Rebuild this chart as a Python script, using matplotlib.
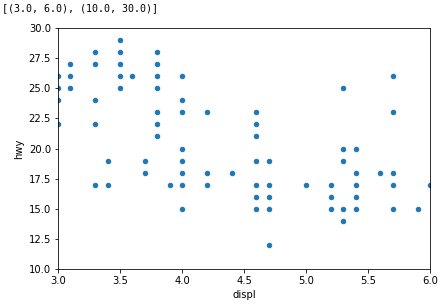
import matplotlib
matplotlib.use("Agg")
from matplotlib import pyplot as plt

# displ -> hwy values
displ_groups = [3.0, 3.1, 3.3, 3.4, 3.5, 3.6, 3.7, 3.8, 3.9, 4.0, 4.2, 4.4,
                4.6, 4.7, 5.0, 5.2, 5.3, 5.4, 5.6, 5.7, 5.9, 6.0]
hwy_groups = [
    [26, 25, 24, 22],
    [27, 26, 25],
    [28, 27, 24, 22, 17],
    [19, 17],
    [29, 28, 27, 26, 25],
    [26],
    [19, 18],
    [28, 27, 26, 25, 23, 22, 21],
    [17],
    [26, 24, 23, 20, 19, 18, 17, 15],
    [23, 18, 17],
    [18],
    [23, 22, 21, 19, 17, 16, 15],
    [19, 17, 16, 15, 12],
    [17],
    [17, 16, 15],
    [25, 20, 19, 15, 14],
    [20, 18, 17, 16, 15],
    [18],
    [26, 23, 18, 17, 15],
    [15],
    [17],
]

displ = []
hwy = []
for d, ys in zip(displ_groups, hwy_groups):
    for y in ys:
        displ.append(d)
        hwy.append(y)

fig = plt.figure(figsize=(443 / 72, 308 / 72), dpi=72)
ax = fig.add_axes([0.1309, 0.1266, 0.8398, 0.7825])
ax.scatter(displ, hwy, s=20, color='#1f77b4')
ax.set_xlim(3.0, 6.0)
ax.set_ylim(10.0, 30.0)
ax.set_xlabel('displ')
ax.set_ylabel('hwy')

# notebook output line above the plot
fig.text(0.005, 0.99, '[(3.0, 6.0), (10.0, 30.0)]', fontsize=10,
         family='DejaVu Sans Mono', va='top', ha='left')

fig.savefig('out.png', dpi=72)
